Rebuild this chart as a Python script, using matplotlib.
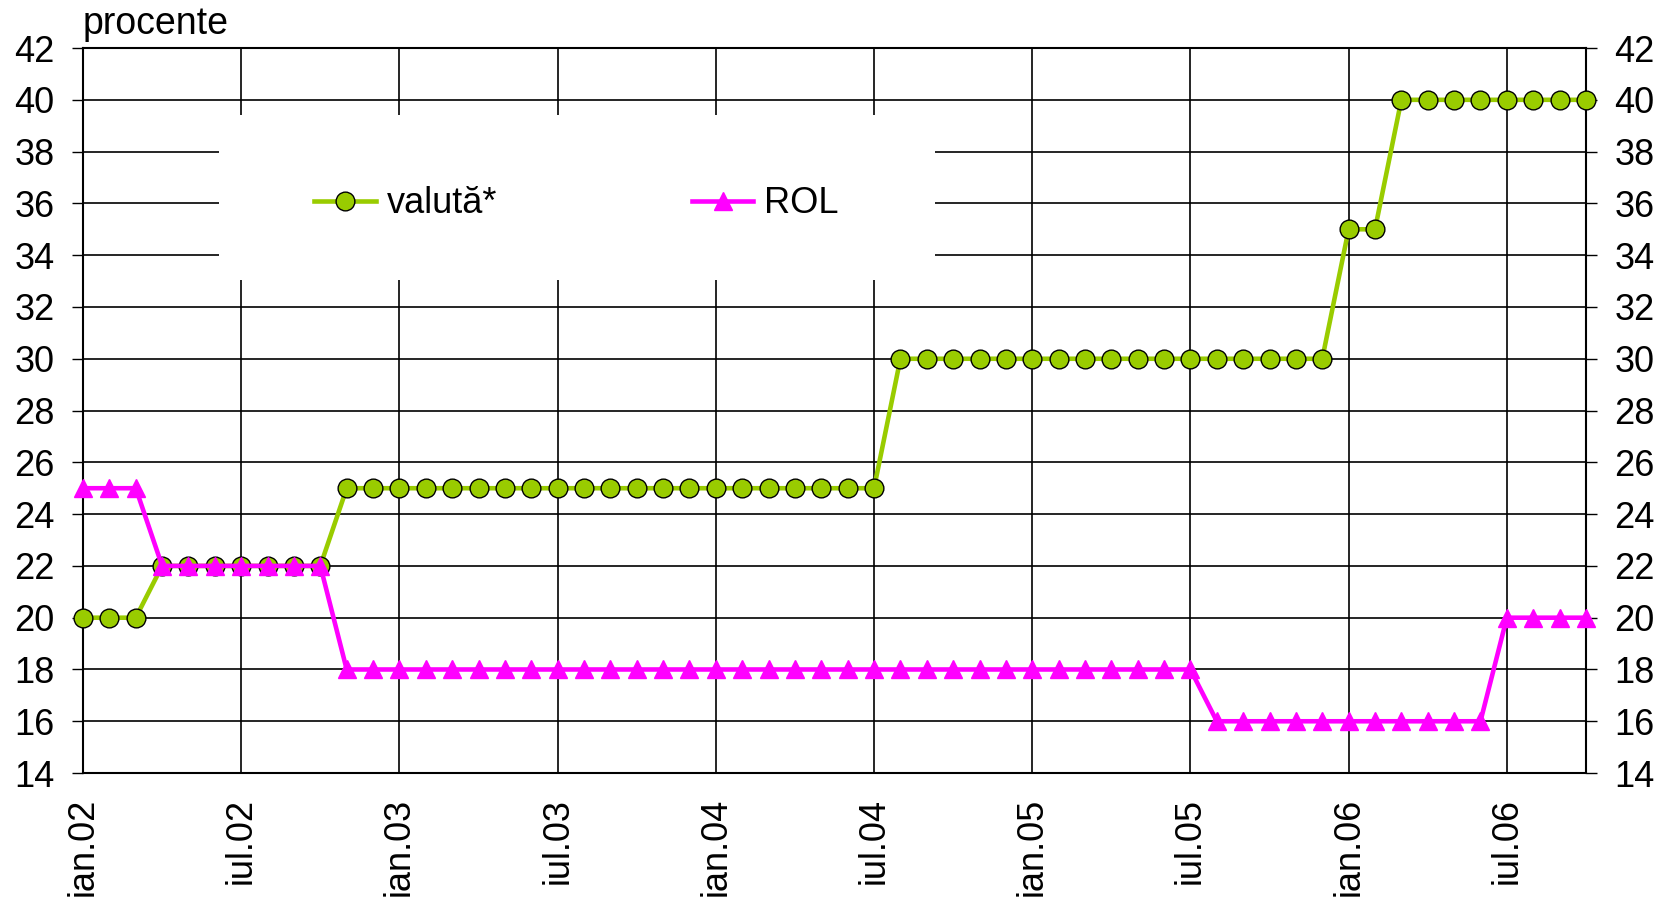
import matplotlib
matplotlib.use("Agg")
import matplotlib.pyplot as plt
from matplotlib.patches import Rectangle

plt.rcParams['font.family'] = ['Liberation Sans', 'DejaVu Sans']

# monthly data ian.02 .. oct.06
months = ["ian.02", "feb.02", "mar.02", "apr.02", "mai.02", "iun.02", "iul.02", "aug.02", "sep.02", "oct.02", "noi.02", "dec.02",
          "ian.03", "feb.03", "mar.03", "apr.03", "mai.03", "iun.03", "iul.03", "aug.03", "sep.03", "oct.03", "noi.03", "dec.03",
          "ian.04", "feb.04", "mar.04", "apr.04", "mai.04", "iun.04", "iul.04", "aug.04", "sep.04", "oct.04", "noi.04", "dec.04",
          "ian.05", "feb.05", "mar.05", "apr.05", "mai.05", "iun.05", "iul.05", "aug.05", "sep.05", "oct.05", "noi.05", "dec.05",
          "ian.06", "feb.06", "mar.06", "apr.06", "mai.06", "iun.06", "iul.06", "aug.06", "sep.06", "oct.06"]

valuta = [20, 20, 20, 22, 22, 22, 22, 22, 22, 22, 25, 25,
          25, 25, 25, 25, 25, 25, 25, 25, 25, 25, 25, 25,
          25, 25, 25, 25, 25, 25, 25, 30, 30, 30, 30, 30,
          30, 30, 30, 30, 30, 30, 30, 30, 30, 30, 30, 30,
          35, 35, 40, 40, 40, 40, 40, 40, 40, 40]

rol = [25, 25, 25, 22, 22, 22, 22, 22, 22, 22, 18, 18,
       18, 18, 18, 18, 18, 18, 18, 18, 18, 18, 18, 18,
       18, 18, 18, 18, 18, 18, 18, 18, 18, 18, 18, 18,
       18, 18, 18, 18, 18, 18, 18, 16, 16, 16, 16, 16,
       16, 16, 16, 16, 16, 16, 20, 20, 20, 20]

tick_labels = ["ian.02", "iul.02", "ian.03", "iul.03", "ian.04", "iul.04",
               "ian.05", "iul.05", "ian.06", "iul.06"]
y_ticks = list(range(14, 43, 2))

green = "#99CC00"
magenta = "#FF00FF"
FS = 26

fig = plt.figure(figsize=(16.74, 9.01), dpi=100)
ax = fig.add_axes([0.0496, 0.142, 0.8978, 0.8047])

x = list(range(len(months)))
l1, = ax.plot(x, valuta, color=green, lw=3.3, marker='o', ms=13.5,
              markerfacecolor=green, markeredgecolor='black', markeredgewidth=1.0,
              clip_on=False, zorder=3, label="valută*")
l2, = ax.plot(x, rol, color=magenta, lw=3.3, marker='^', ms=13,
              markerfacecolor=magenta, markeredgecolor=magenta,
              clip_on=False, zorder=3, label="ROL")

ax.set_xlim(0, len(months) - 1)
ax.set_ylim(14, 42)
ax.set_yticks(y_ticks)
ax.set_yticklabels([str(v) for v in y_ticks])
tick_pos = [months.index(t) for t in tick_labels]
ax.set_xticks(tick_pos)
ax.set_xticklabels(tick_labels, rotation=90, fontsize=FS)

ax.tick_params(axis='y', which='both', left=True, right=True, labelleft=True,
               labelright=True, direction='out', length=8, width=1,
               labelsize=FS, pad=12.5)
ax.tick_params(axis='x', length=0, pad=18)

ax.set_axisbelow(True)
ax.grid(True, color='black', lw=1.2)
for s in ax.spines.values():
    s.set_linewidth(1.5)
    s.set_color('black')

# white legend panel hiding the grid
ax.add_patch(Rectangle((5.16, 33.05), 27.15, 6.35, facecolor='white',
                       edgecolor='none', zorder=1))

leg = ax.legend(handles=[l1, l2], loc='center left',
                bbox_to_anchor=(0.154, 0.785), ncol=2, frameon=False,
                fontsize=FS, handlelength=1.7, handletextpad=0.3,
                columnspacing=5.4, borderpad=0, borderaxespad=0)

fig.text(0.0496, 0.962, "procente", fontsize=27, ha='left', va='baseline')

fig.savefig("out.png", dpi=100)
